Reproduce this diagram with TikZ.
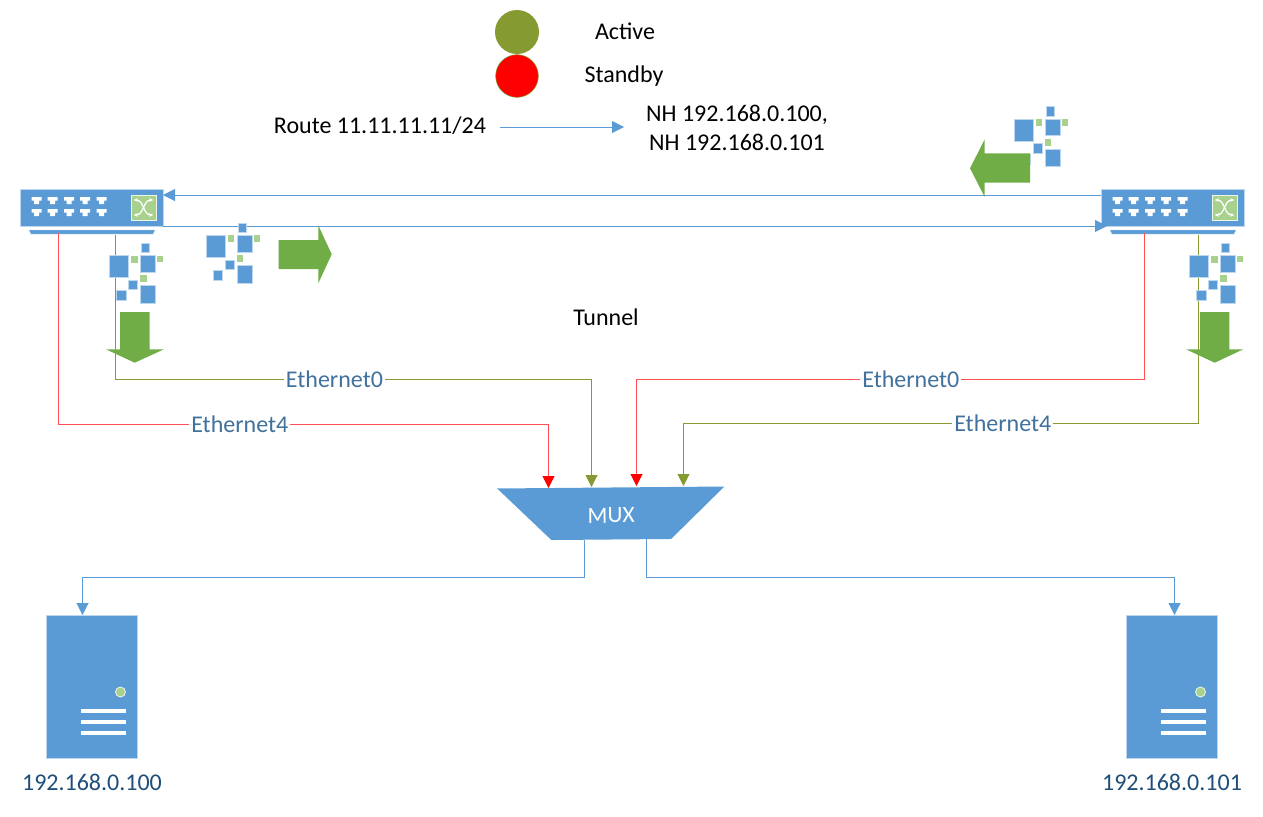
\documentclass[tikz,border=0pt]{standalone}
\usepackage{fontspec}
\setmainfont{Carlito}
\usetikzlibrary{arrows.meta,shapes.geometric}
\definecolor{netblue}{HTML}{5B9BD5}
\definecolor{netgreen}{HTML}{70AD47}
\definecolor{paleblue}{HTML}{BDD7EE}
\definecolor{palegreen}{HTML}{A9D18E}
\definecolor{oliveline}{HTML}{859B32}
\definecolor{redwire}{HTML}{FF4F55}
\definecolor{labelblue}{HTML}{41719C}
\definecolor{ipblue}{HTML}{1F4E79}
\tikzset{
  txt/.style={font=\fontsize{18}{21}\selectfont, inner sep=0pt, align=center},
  ethlabel/.style={font=\fontsize{18}{21}\selectfont, text=labelblue, fill=white, inner sep=1.5pt},
  iplabel/.style={font=\fontsize{18}{21}\selectfont, text=ipblue, inner sep=0pt},
  dot/.style={circle, inner sep=0pt, minimum size=#1},
  swbody/.style={fill=netblue, draw=paleblue, line width=0.3pt, minimum width=107.25pt, minimum height=27.75pt, inner sep=0pt},
  srvbody/.style={fill=netblue, draw=paleblue, line width=0.3pt, minimum width=68pt, minimum height=107.25pt, inner sep=0pt},
  netline/.style={draw=netblue, line width=0.75pt, -{Triangle[length=9pt,width=9pt]}},
  redline/.style={draw=redwire, line width=0.75pt, -{Triangle[length=9pt,width=9pt,color=red]}},
  oliveconn/.style={draw=oliveline, line width=0.75pt, -{Triangle[length=9pt,width=9pt]}},
  bigarrow/.style={fill=netgreen},
  pkt/.style={fill=netblue, draw=paleblue, line width=0.3pt},
  pktg/.style={fill=palegreen},
  swicons/.pic={
    \fill[netblue, draw=paleblue, line width=0.2pt] (9,41) -- (135,41) -- (133,45) -- (11,45) -- cycle;
    \foreach \px in {16.7,32.7,49,65,81.5} {
      \foreach \py in {11.7,23.7} {
        \fill[white] (\px-5,\py-3.5) -- (\px+5,\py-3.5) -- (\px+5,\py) -- (\px+2.5,\py) -- (\px+2.5,\py+3.5) -- (\px-2.5,\py+3.5) -- (\px-2.5,\py) -- (\px-5,\py) -- cycle;
      }
    }
    \fill[palegreen, draw=white!80!palegreen, line width=0.5pt] (111,6) rectangle (136,31);
    \draw[white, line width=0.9pt, {Stealth[length=3.5pt]}-{Stealth[length=3.5pt]}] (113.5,11) .. controls (124,11) and (123,26) .. (133.5,26);
    \draw[white, line width=0.9pt, {Stealth[length=3.5pt]}-{Stealth[length=3.5pt]}] (113.5,26) .. controls (124,26) and (123,11) .. (133.5,11);
  },
  srvicons/.pic={
    \fill[palegreen, draw=white, line width=0.5pt] (28.5,6) circle (5);
    \foreach \py in {25,36,47} {
      \fill[white] (-11,\py-1.7) rectangle (34,\py+1.7);
    }
  },
  pktgroup/.pic={
    \path[pkt] (0,0) rectangle +(19,22);
    \path[pkt] (31.7,-12.3) rectangle +(8.3,9.3);
    \path[pkt] (31,0) rectangle +(14.7,16.7);
    \path[pkt] (19.3,24.7) rectangle +(9,9.6);
    \path[pkt] (7.3,35) rectangle +(9.3,10.3);
    \path[pkt] (31,30.3) rectangle +(15.3,17.4);
    \path[pktg] (21.7,0.3) rectangle +(6.5,7);
    \path[pktg] (48,0.3) rectangle +(6,6.7);
    \path[pktg] (31,20) rectangle +(6.3,7);
  }
}
\begin{document}
\begin{tikzpicture}[x=0.75pt,y=-0.75pt]
\useasboundingbox (0,0) rectangle (1263,817);
% legend
\node [dot=33pt, fill=oliveline] (actdot) at (517,32) {};
\node [dot=32pt, fill=red, draw=oliveline, line width=0.4pt] (stbdot) at (517,76) {};
\node [txt] (acttxt) at (625,31) {Active};
\node [txt] (stbtxt) at (624,76.5) {Standby};
% route
\node [txt] (route) at (380,126) {Route 11.11.11.11/24};
\node [txt] (nh) at (737,127.5) {NH 192.168.0.100,\\[0.75pt]NH 192.168.0.101};
\coordinate (routea) at (500,127);
\coordinate (routeb) at (624,127);
\draw [netline] (routea) -- (routeb);
\node [txt] (tunnel) at (606,317) {Tunnel};
% switches
\node [swbody] (swl) at (91.5,207.5) {};
\node [swbody] (swr) at (1172.5,207.5) {};
\pic at (20,189) {swicons};
\pic at (1101,189) {swicons};
\coordinate (tunaa) at (1101,195);
\coordinate (tunab) at (163,195);
\coordinate (tunba) at (163,226);
\coordinate (tunbb) at (1107,226);
\draw [netline] (tunaa) -- (tunab);
\draw [netline] (tunba) -- (tunbb);
% mux
\node [trapezium, trapezium angle=41.5, trapezium stretches=true, shape border rotate=180, rotate=0.5, fill=netblue, minimum width=171pt, minimum height=39pt, inner sep=0pt, font=\fontsize{17.5}{20}\selectfont, text=white, text height=14pt, text depth=0pt] (mux) at (611,513.5) {MUX};
\coordinate (swlred) at (58.5,233);
\coordinate (swlgrn) at (115.5,235);
\coordinate (swrred) at (1144.5,233);
\coordinate (swrgrn) at (1198.5,235);
\coordinate (muxa) at (548.5,488);
\coordinate (muxb) at (591.5,487);
\coordinate (muxc) at (636.5,486);
\coordinate (muxd) at (683.5,486);
\coordinate (bendb) at (591.5,379);
\coordinate (benda) at (548.5,424);
\coordinate (bendc) at (636.5,379);
\coordinate (bendd) at (683.5,423);
\draw [redline] (swlred) |- (benda) node [ethlabel, pos=0.685] {Ethernet4} -- (muxa);
\draw [oliveconn] (swlgrn) |- (bendb) node [ethlabel, pos=0.73] {Ethernet0} -- (muxb);
\draw [redline] (swrred) |- (bendc) node [ethlabel, pos=0.73] {Ethernet0} -- (muxc);
\draw [oliveconn] (swrgrn) |- (bendd) node [ethlabel, pos=0.69] {Ethernet4} -- (muxd);
% servers
\node [srvbody] (srvl) at (92,686.5) {};
\node [srvbody] (srvr) at (1172,686.5) {};
\pic at (92,686) {srvicons};
\pic at (1172,686) {srvicons};
\node [iplabel] (ipl) at (92,782) {192.168.0.100};
\node [iplabel] (ipr) at (1172,782) {192.168.0.101};
\coordinate (muxl) at (584.5,540);
\coordinate (muxr) at (646.5,539);
\coordinate (bendl) at (584.5,577);
\coordinate (bendr) at (646.5,577);
\coordinate (srvlin) at (82.5,615);
\coordinate (srvrin) at (1174.5,615);
\draw [netline] (muxl) -- (bendl) -| (srvlin);
\draw [netline] (muxr) -- (bendr) -| (srvrin);
% packets and green arrows
\pic at (206,235) {pktgroup};
\pic at (109.3,255.3) {pktgroup};
\pic at (1014,118.7) {pktgroup};
\pic at (1189.3,255.3) {pktgroup};
\fill [bigarrow] (278.7,240) -- (318.3,240) -- (318.3,225.3) -- (331.7,254.3) -- (318.3,283.3) -- (318.3,269) -- (278.7,269) -- cycle;
\fill [bigarrow] (1030,153.3) -- (984.7,153.3) -- (984.7,139.3) -- (970,168.3) -- (984.7,197) -- (984.7,182.7) -- (1030,182.7) -- cycle;
\fill [bigarrow] (120,312) -- (149.7,312) -- (149.7,349.3) -- (164,349.3) -- (134.7,362.7) -- (106,349.3) -- (120,349.3) -- cycle;
\fill [bigarrow] (1200,312) -- (1229.3,312) -- (1229.3,349.3) -- (1243.3,349.3) -- (1214.7,362.7) -- (1186,349.3) -- (1200,349.3) -- cycle;
\end{tikzpicture}
\end{document}
